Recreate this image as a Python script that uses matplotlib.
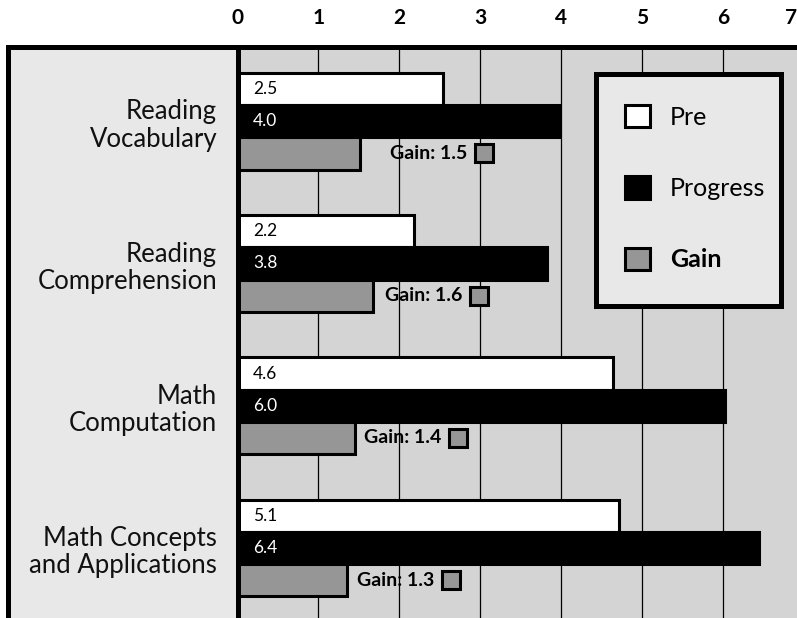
import matplotlib
matplotlib.use("Agg")
import matplotlib.pyplot as plt
from matplotlib.patches import Patch
import numpy as np

plt.rcParams['font.family'] = ['Lato', 'DejaVu Sans']

# ---------------- data ----------------
categories = ["Reading\nVocabulary", "Reading\nComprehension",
              "Math\nComputation", "Math Concepts\nand Applications"]
pre_labels = ["2.5", "2.2", "4.6", "5.1"]
progress_labels = ["4.0", "3.8", "6.0", "6.4"]
gain_labels = ["1.5", "1.6", "1.4", "1.3"]
# bar lengths as drawn in the picture
pre_values = [2.54, 2.18, 4.64, 4.72]
progress_values = [3.97, 3.82, 6.03, 6.45]
gain_values = [1.51, 1.67, 1.45, 1.355]
# x position of the small gain marker squares
gain_marker_x = [3.047, 2.98, 2.725, 2.64]
x_ticks = [0, 1, 2, 3, 4, 5, 6]
last_tick = "7"
series_names = ["Pre", "Progress", "Gain"]

# ---------------- style ----------------
C_PRE = "white"
C_PROG = "black"
C_GAIN = "#969696"
C_PLOT_BG = "#d4d4d4"
C_PANEL = "#e8e8e8"
EDGE_LW = 2.2
SPINE_LW = 3.6

W, H = 797, 618
fig = plt.figure(figsize=(W / 100, H / 100), dpi=100)
fig.patch.set_facecolor("white")

top_px = 47
x0_px = 237.5
px_per_unit = 80.9
ax_h = (H - top_px) / H

# left category panel
panel = fig.add_axes([8 / W, 0, (x0_px - 8) / W, ax_h])
panel.set_facecolor(C_PANEL)
panel.set_xlim(0, 1)
for s in ["right", "bottom"]:
    panel.spines[s].set_visible(False)
for s in ["left", "top"]:
    panel.spines[s].set_linewidth(SPINE_LW)
    panel.spines[s].set_capstyle("projecting")
panel.set_xticks([])
panel.set_yticks([])

# main plot axes
ax = fig.add_axes([x0_px / W, 0, 7 * px_per_unit / W, ax_h])
ax.set_facecolor(C_PLOT_BG)
ax.set_xlim(0, 7)

n = len(categories)
y = np.arange(n)
spacing_px = 142.2
first_px = 121.3 - top_px
y_top = -first_px / spacing_px
y_bot = (H - top_px - first_px) / spacing_px
ax.set_ylim(y_bot, y_top)
panel.set_ylim(y_bot, y_top)

h = 0.226
ax.barh(y - h, pre_values, height=h, color=C_PRE, edgecolor="black",
        linewidth=EDGE_LW, zorder=3)
ax.barh(y, progress_values, height=h, color=C_PROG, edgecolor="black",
        linewidth=EDGE_LW, zorder=3)
ax.barh(y + h, gain_values, height=h, color=C_GAIN, edgecolor="black",
        linewidth=EDGE_LW, zorder=3)

for i in range(n):
    ax.text(0.19, y[i] - h, pre_labels[i], ha="left", va="center",
            fontsize=12.5, color="black", zorder=5)
    ax.text(0.19, y[i], progress_labels[i], ha="left", va="center",
            fontsize=12.5, color="white", zorder=5)
    ax.plot([gain_marker_x[i]], [y[i] + h], marker="s", ms=13, mew=2.2,
            mfc=C_GAIN, mec="black", ls="none", zorder=6)
    ax.annotate("Gain: " + gain_labels[i], xy=(gain_marker_x[i], y[i] + h),
                xytext=(-12, 0), textcoords="offset points", ha="right",
                va="center", fontsize=14, fontweight="bold", zorder=6)
    panel.text(0.911, y[i] + 0.03, categories[i], ha="right", va="center",
               fontsize=18.5, linespacing=1.12, color="#111111")

ax.set_axisbelow(True)
ax.grid(axis="x", color="black", linewidth=0.9, zorder=0)
ax.grid(axis="y", visible=False)
ax.set_xticks(x_ticks + [7])
ax.set_xticklabels([str(t) for t in x_ticks] + [""], fontweight="bold",
                   fontsize=15)
ax.xaxis.tick_top()
ax.tick_params(axis="x", length=0, pad=14)
ax.annotate(last_tick, xy=(6.84, 1), xycoords=("data", "axes fraction"),
            xytext=(0, 14), textcoords="offset points", ha="center",
            va="bottom", fontsize=15, fontweight="bold",
            annotation_clip=False)
ax.set_yticks([])
for s in ["right", "bottom"]:
    ax.spines[s].set_visible(False)
for s in ["left", "top"]:
    ax.spines[s].set_linewidth(SPINE_LW)
    ax.spines[s].set_capstyle("projecting")
    ax.spines[s].set_zorder(7)

# legend box
lax = fig.add_axes([596 / W, 1 - 306 / H, 185 / W, 232 / H])
lax.set_facecolor(C_PANEL)
lax.set_xticks([])
lax.set_yticks([])
for s in lax.spines.values():
    s.set_linewidth(SPINE_LW)
handles = [Patch(facecolor=C_PRE, edgecolor="black", linewidth=EDGE_LW),
           Patch(facecolor=C_PROG, edgecolor="black", linewidth=EDGE_LW),
           Patch(facecolor=C_GAIN, edgecolor="black", linewidth=EDGE_LW)]
leg = lax.legend(handles, series_names, loc="upper left",
                 bbox_to_anchor=(0.157, 0.866), frameon=False, fontsize=18,
                 handlelength=1.0, handleheight=1.0, handletextpad=0.8,
                 labelspacing=1.9, borderpad=0, borderaxespad=0)
leg.get_texts()[2].set_fontweight("bold")

fig.savefig("out.png", dpi=100)
